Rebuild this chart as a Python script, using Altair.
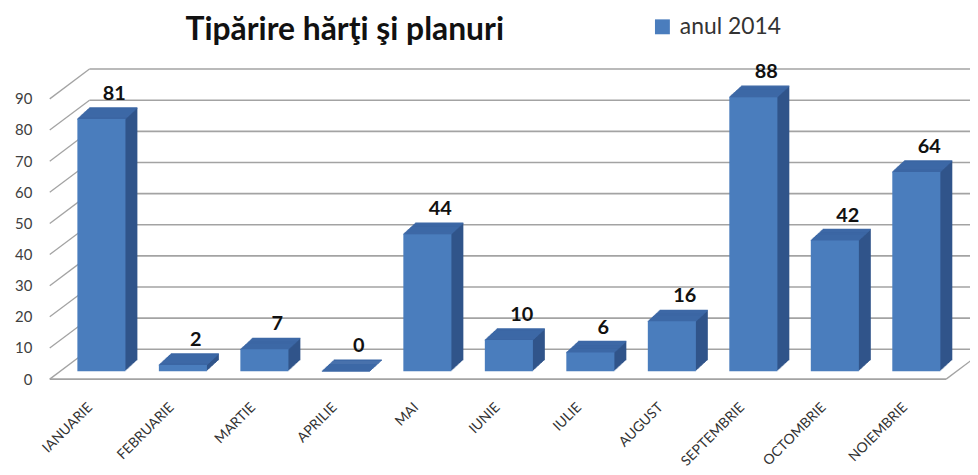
import altair as alt
import pandas as pd

# ---- data ----
months = ["IANUARIE", "FEBRUARIE", "MARTIE", "APRILIE", "MAI", "IUNIE",
          "IULIE", "AUGUST", "SEPTEMBRIE", "OCTOMBRIE", "NOIEMBRIE"]
values = [81, 2, 7, 0, 44, 10, 6, 16, 88, 42, 64]
y_ticks = [0, 10, 20, 30, 40, 50, 60, 70, 80, 90]
series_name = "anul 2014"
chart_title = "Tipărire hărţi şi planuri"

# ---- styling ----
FRONT = "#4a7dbd"
SIDE = "#30548a"
TOP = "#3d68a6"
GRID = "#a3a3a3"
FONT = "Lato"

df = pd.DataFrame({"luna": months, "valoare": values,
                   "serie": [series_name] * len(months)})
ticks_df = pd.DataFrame({"v": y_ticks})

W, H = 926, 282
xscale = alt.Scale(domain=months, range=[11, 913], paddingInner=0.41, paddingOuter=0.205)
yscale = alt.Scale(domain=[0, 90], nice=False, zero=True)

XAX = alt.Axis(title=None, labelAngle=-45, labelAlign="right", labelBaseline="middle",
               domain=False, ticks=False, grid=False, labelPadding=26, labelOffset=-11,
               labelFont=FONT, labelFontSize=14, labelColor="#333333")
YAX = alt.Axis(title=None, values=y_ticks, domain=False, ticks=False, grid=False,
               labelPadding=18, labelFont=FONT, labelFontSize=15, labelColor="#404040")

X0 = alt.X("luna:N", scale=xscale, sort=months, axis=XAX)
Y0 = alt.Y("valoare:Q", scale=yscale, axis=YAX)
YT = alt.Y("v:Q", scale=yscale, axis=YAX)

BACK_DX, BACK_DY = 40, -30   # back wall offset
BASE = -8                    # bars stand slightly behind the front edge
DEPTH = 12                   # extrusion of the columns

layers = []

# back wall gridlines
layers.append(
    alt.Chart(ticks_df).mark_rule(color=GRID, strokeWidth=1.6, yOffset=BACK_DY)
    .encode(y=YT, x=alt.value(BACK_DX), x2=alt.value(W))
)
# slanted side-wall ticks
layers.append(
    alt.Chart(ticks_df).mark_rule(color=GRID, strokeWidth=1.3, y2Offset=BACK_DY)
    .encode(y=YT, y2=alt.Y2("v:Q"), x=alt.value(0), x2=alt.value(BACK_DX))
)
# floor front edge
layers.append(
    alt.Chart(ticks_df).transform_filter("datum.v == 0")
    .mark_rule(color=GRID, strokeWidth=1.6)
    .encode(y=YT, x=alt.value(0), x2=alt.value(902))
)
# floor right edge
layers.append(
    alt.Chart(ticks_df).transform_filter("datum.v == 0")
    .mark_rule(color=GRID, strokeWidth=1.3, y2Offset=BACK_DY)
    .encode(y=YT, y2=alt.Y2("v:Q"), x=alt.value(902), x2=alt.value(902 + BACK_DX))
)

base = alt.Chart(df).transform_calculate(zero="0")

# side extrusion
for k in range(1, DEPTH + 1):
    off = BASE - 0.92 * k
    layers.append(
        base.mark_bar(color=SIDE, xOffset=k, yOffset=off, y2Offset=off)
        .encode(x=X0, y=Y0, y2=alt.Y2("zero:Q"))
    )
# top face
for k in range(0, DEPTH + 1):
    off = BASE - 0.92 * k
    layers.append(
        base.mark_bar(fill=TOP, stroke=TOP, strokeWidth=1.4, xOffset=k, yOffset=off, y2Offset=off)
        .encode(x=X0, y=Y0, y2=alt.Y2("valoare:Q"))
    )

# front face with legend
front = base.mark_bar(yOffset=BASE, y2Offset=BASE).encode(
    x=X0, y=Y0, y2=alt.Y2("zero:Q"),
    color=alt.Color("serie:N", scale=alt.Scale(range=[FRONT]),
                    legend=alt.Legend(title=None, orient="none", legendX=605, legendY=-84,
                                      symbolType="square", symbolSize=225, symbolStrokeWidth=0,
                                      labelFont=FONT, labelFontSize=23, labelColor="#333333",
                                      labelOffset=6)),
)
layers.append(front)

# value labels
layers.append(
    alt.Chart(df).mark_text(dx=13, yOffset=BASE - 19, baseline="alphabetic", font=FONT,
                            fontSize=20, fontWeight="bold", color="#111111")
    .encode(x=X0, y=Y0, text="valoare:Q")
)

chart = alt.layer(*layers).properties(
    width=W, height=H,
    title=alt.Title(chart_title, font=FONT, fontSize=32, fontWeight="bold", color="#111111",
                    anchor="start", dx=172, dy=44, offset=12),
    padding={"left": 42, "top": 90, "right": 0, "bottom": 88},
    autosize=alt.AutoSizeParams(type="none"),
).configure_view(stroke=None)

chart.save("out.html", embed_options={"renderer": "svg", "actions": False})
